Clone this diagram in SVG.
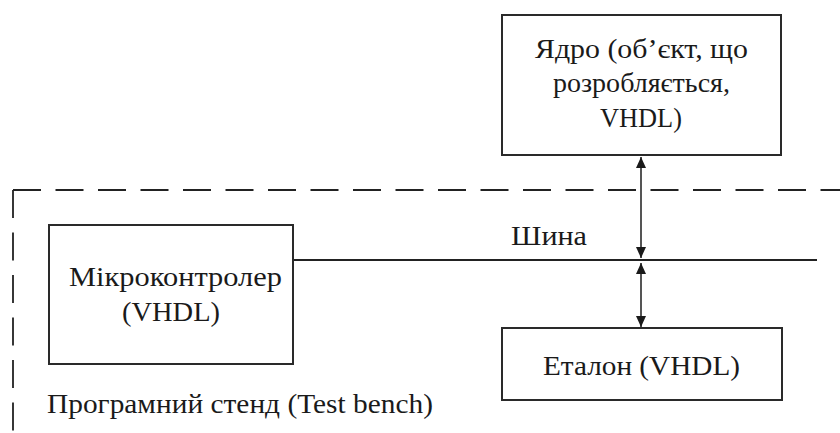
<svg xmlns="http://www.w3.org/2000/svg" width="840" height="433" viewBox="0 0 840 433">
  <style>
    .box { fill: #ffffff; stroke: #2a2a2a; stroke-width: 2; }
    .lbl { font-family: "Liberation Serif", "Times New Roman", serif; font-size: 28px; fill: #1a1a1a; }
    .bound { fill: none; stroke: #222; stroke-width: 1.8; stroke-dasharray: 28 14.5; }
    .bus { fill: none; stroke: #222; stroke-width: 1.8; }
    .link { fill: none; stroke: #555; stroke-width: 2; marker-start: url(#head); marker-end: url(#head); }
  </style>
  <defs>
    <marker id="head" viewBox="0 0 11 10" refX="11" refY="5" markerWidth="11" markerHeight="10" markerUnits="userSpaceOnUse" orient="auto-start-reverse">
      <path d="M0,0 L11,5 L0,10 z" fill="#1a1a1a"/>
    </marker>
  </defs>

  <rect width="840" height="433" fill="#ffffff"/>

  <!-- test bench boundary -->
  <g id="testbench">
    <line class="bound" x1="13" y1="190" x2="13" y2="433"/>
    <line class="bound" x1="13" y1="190" x2="840" y2="190"/>
    <text class="lbl" x="47" y="413" textLength="386" lengthAdjust="spacingAndGlyphs">Програмний стенд (Test bench)</text>
  </g>

  <!-- connectors -->
  <g id="connectors">
    <line class="bus" x1="293" y1="260" x2="817" y2="260"/>
    <text class="lbl" x="511" y="245" textLength="76" lengthAdjust="spacingAndGlyphs">Шина</text>
    <line class="link" x1="641" y1="157" x2="641" y2="258"/>
    <line class="link" x1="641" y1="263" x2="641" y2="327"/>
  </g>

  <!-- core under development -->
  <g id="core">
    <rect class="box" x="502" y="15" width="279" height="140"/>
    <text class="lbl" x="535" y="58" textLength="213" lengthAdjust="spacingAndGlyphs">Ядро (об’єкт, що</text>
    <text class="lbl" x="553" y="92" textLength="177" lengthAdjust="spacingAndGlyphs">розробляється,</text>
    <text class="lbl" x="600" y="127" textLength="82" lengthAdjust="spacingAndGlyphs">VHDL)</text>
  </g>

  <!-- microcontroller -->
  <g id="mcu">
    <rect class="box" x="49" y="225" width="244" height="139"/>
    <text class="lbl" x="69" y="286" textLength="213" lengthAdjust="spacingAndGlyphs">Мікроконтролер</text>
    <text class="lbl" x="122" y="321" textLength="98" lengthAdjust="spacingAndGlyphs">(VHDL)</text>
  </g>

  <!-- reference model -->
  <g id="reference">
    <rect class="box" x="502" y="328" width="280" height="72"/>
    <text class="lbl" x="543" y="375" textLength="197" lengthAdjust="spacingAndGlyphs">Еталон (VHDL)</text>
  </g>
</svg>
